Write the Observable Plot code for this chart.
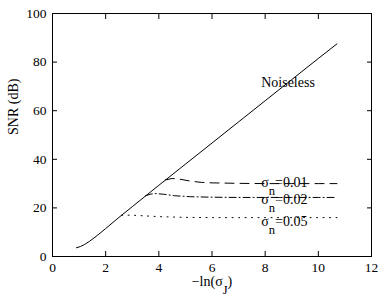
<!DOCTYPE html>
<html><head><meta charset="utf-8">
<script src="https://cdn.jsdelivr.net/npm/d3@7"></script>
<script src="https://cdn.jsdelivr.net/npm/@observablehq/plot@0.6"></script>
<style>
body{margin:0;background:#fff}
svg{display:block}
svg, svg text{font-family:"Liberation Serif","Times New Roman",Times,serif !important}
</style>
</head><body><div id="chart"></div>
<script>
const xTicks = [0, 2, 4, 6, 8, 10, 12];
const yTicks = [0, 20, 40, 60, 80, 100];

const noiselessX = [0.9, 1.05, 1.2, 1.4, 1.7, 2, 2.5, 3, 4, 5, 6, 7, 8, 9, 10, 10.7];
const noiselessY = [3.6, 4.1, 4.9, 6.3, 8.8, 11.5, 16.1, 20.5, 29.3, 38.0, 46.7, 55.4, 64.1, 72.8, 81.5, 87.5];

const sigma01X = [4.25, 4.5, 4.8, 5.2, 5.6, 6, 7, 8, 9, 10, 10.7];
const sigma01Y = [31.5, 32.1, 31.8, 31.0, 30.5, 30.3, 30.1, 30.0, 30.0, 30.0, 30.0];

const sigma02X = [3.5, 3.7, 3.9, 4.2, 4.6, 5.2, 6, 7, 8, 9, 10, 10.7];
const sigma02Y = [25.0, 25.7, 25.9, 25.6, 25.0, 24.6, 24.4, 24.3, 24.3, 24.3, 24.3, 24.3];

const sigma05X = [2.6, 3, 3.5, 4, 5, 6, 7, 8, 9, 10, 10.7];
const sigma05Y = [17.0, 17.0, 16.7, 16.4, 16.1, 16.0, 16.0, 16.0, 16.0, 16.0, 16.0];

const labelText = ["Noiseless", "σ_n=0.01", "σ_n=0.02", "σ_n=0.05"];
const labelX = [7.85, 7.85, 7.85, 7.85];
const labelY = [71.4, 30.4, 23.4, 14.3];

const xLabel = "−ln(σ_J)";
const yLabel = "SNR (dB)";

const toRows = (xs, ys) => xs.map((x, i) => ({x, y: ys[i]}));
const labels = labelText.map((t, i) => ({t, x: labelX[i], y: labelY[i]}));

const chart = Plot.plot({
  width: 383, height: 300,
  marginLeft: 52, marginRight: 12, marginTop: 13, marginBottom: 44,
  style: {fontFamily: "'Liberation Serif', serif", fontSize: "13px", color: "black", background: "white"},
  x: {domain: [0, 12]},
  y: {domain: [0, 100]},
  marks: [
    Plot.axisX(xTicks, {anchor: "bottom", tickSize: 0, tickPadding: 6, label: null, fontSize: 13.5}),
    Plot.axisX(xTicks, {anchor: "bottom", tickSize: -5, fill: "none", label: null}),
    Plot.axisX(xTicks, {anchor: "top", tickSize: -5, fill: "none", label: null}),
    Plot.axisY(yTicks, {anchor: "left", tickSize: 0, tickPadding: 6, label: null, fontSize: 13.5}),
    Plot.axisY(yTicks, {anchor: "left", tickSize: -5, fill: "none", label: null}),
    Plot.axisY(yTicks, {anchor: "right", tickSize: -5, fill: "none", label: null}),
    Plot.frame({stroke: "black"}),
    Plot.line(toRows(noiselessX, noiselessY), {x: "x", y: "y", stroke: "black", strokeWidth: 1}),
    Plot.line(toRows(sigma01X, sigma01Y), {x: "x", y: "y", stroke: "black", strokeWidth: 1, strokeDasharray: "9,6"}),
    Plot.line(toRows(sigma02X, sigma02Y), {x: "x", y: "y", stroke: "black", strokeWidth: 1, strokeDasharray: "7,3,1,3"}),
    Plot.line(toRows(sigma05X, sigma05Y), {x: "x", y: "y", stroke: "black", strokeWidth: 1, strokeDasharray: "1,5.5"}),
    Plot.text(labels, {x: "x", y: "y", text: "t", textAnchor: "start", lineAnchor: "middle", fill: "black", fontSize: 14}),
    Plot.text([xLabel], {text: d => d, frameAnchor: "bottom", dy: 29.5, fill: "black", fontSize: 14}),
    Plot.text([yLabel], {text: d => d, frameAnchor: "left", rotate: -90, dx: -39, fill: "black", fontSize: 14})
  ]
});

// render subscripts written as "a_b..." with real tspans
d3.select(chart).selectAll("text").each(function () {
  if (this.querySelector("tspan")) return;
  const t = this.textContent;
  const m = t.match(/^(.*?)_(.)(.*)$/);
  if (!m) return;
  const el = d3.select(this);
  el.text(null);
  el.append("tspan").text(m[1]);
  el.append("tspan").attr("dy", "0.62em").attr("font-size", "0.9em").text(m[2]);
  if (m[3]) el.append("tspan").attr("dy", "-0.56em").text(m[3]);
});

document.getElementById("chart").append(chart);
</script>
</body></html>
